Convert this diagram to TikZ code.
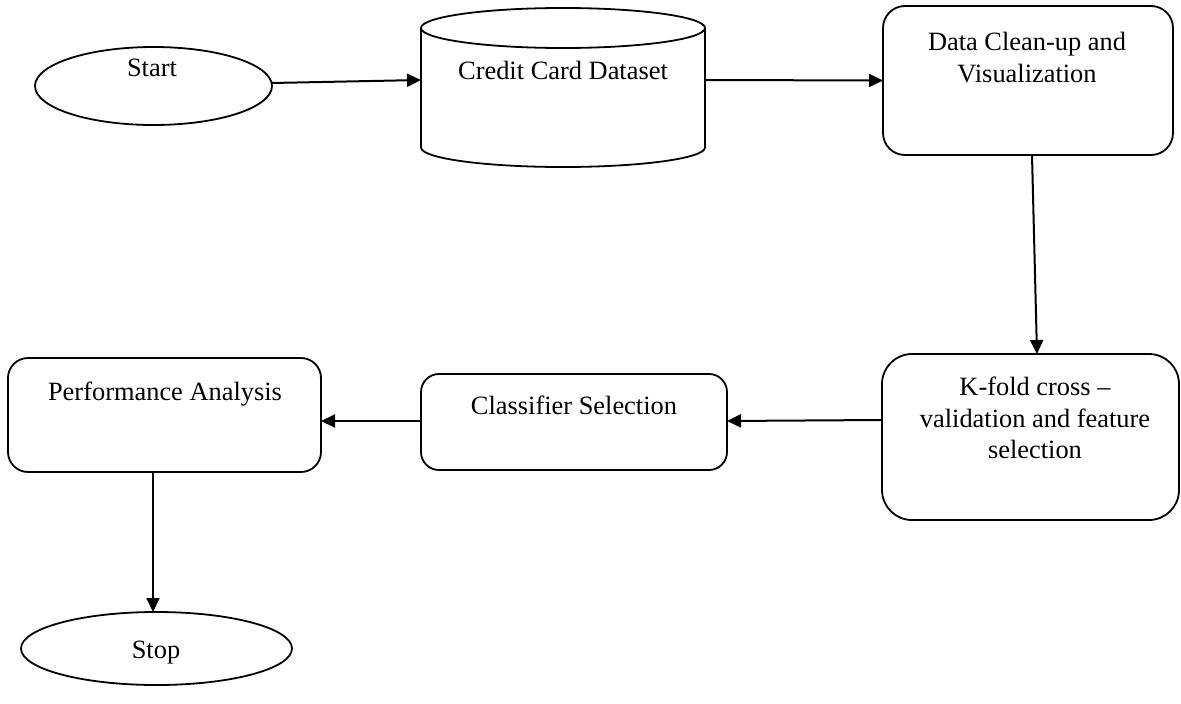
\documentclass[tikz,border=0pt]{standalone}
\usepackage{fontspec}
\setmainfont{Liberation Serif}
\usetikzlibrary{shapes.geometric,arrows.meta,calc}
\begin{document}
\begin{tikzpicture}[x=1pt,y=-1pt,
  every node/.style={inner sep=0pt,outer sep=0pt},
  lbl/.style={anchor=base,font=\fontsize{26.4}{31.5}\selectfont},
  oval/.style={draw,line width=1.8pt,ellipse},
  rbox/.style={draw,line width=1.8pt,rectangle},
  arr/.style={line width=2pt,-{Triangle[length=14pt,width=13pt]}}]
\useasboundingbox (0,0) rectangle (1181,704);
% shapes
\node[oval,minimum width=237pt,minimum height=78pt] (start) at (153.5,86) {};
\node[minimum width=284pt,minimum height=159pt] (db) at (563,87.5) {};
\draw[line width=1.8pt] ([yshift=-20pt]db.north) ellipse [x radius=142, y radius=20];
\draw[line width=1.8pt] (db.north west |- 0,28) -- (db.west |- 0,147.5)
  arc[start angle=180,end angle=0,x radius=142,y radius=19.5] -- (db.east |- 0,28);
\node[rbox,rounded corners=22pt,minimum width=290pt,minimum height=149pt] (clean) at (1028,80.5) {};
\node[rbox,rounded corners=30pt,minimum width=297pt,minimum height=166pt] (kfold) at (1030.5,437) {};
\node[rbox,rounded corners=18pt,minimum width=306pt,minimum height=96pt] (class) at (574,422) {};
\node[rbox,rounded corners=20pt,minimum width=313pt,minimum height=114pt] (perf) at (164.5,415) {};
\node[oval,minimum width=271pt,minimum height=73pt] (stop) at (156.5,648.5) {};
% labels
\node[lbl] (tstart) at (152,76) {Start};
\node[lbl] (tdb) at (563,79) {Credit Card Dataset};
\node[lbl] (tclean1) at (1027,50) {Data Clean-up and};
\node[lbl] (tclean2) at (1027,82) {Visualization};
\node[lbl] (tk1) at (1035,395) {K-fold cross --};
\node[lbl] (tk2) at (1035,427) {validation and feature};
\node[lbl] (tk3) at (1035,458) {selection};
\node[lbl] (tclass) at (574,414) {Classifier Selection};
\node[lbl] (tperf) at (165,400) {Performance Analysis};
\node[lbl] (tstop) at (156,658) {Stop};
% connectors
\draw[arr] ([yshift=3pt]start.east) -- ([yshift=7.5pt]db.west);
\draw[arr] ([yshift=7.5pt]db.east) -- (clean.west);
\draw[arr] ([xshift=4pt]clean.south) -- ([xshift=6.5pt]kfold.north);
\draw[arr] ([yshift=17pt]kfold.west) -- ([yshift=1pt]class.east);
\draw[arr] ([yshift=1pt]class.west) -- ([yshift=-6pt]perf.east);
\draw[arr] ([xshift=-11.5pt]perf.south) -- ([xshift=-3.5pt]stop.north);
\end{tikzpicture}
\end{document}
